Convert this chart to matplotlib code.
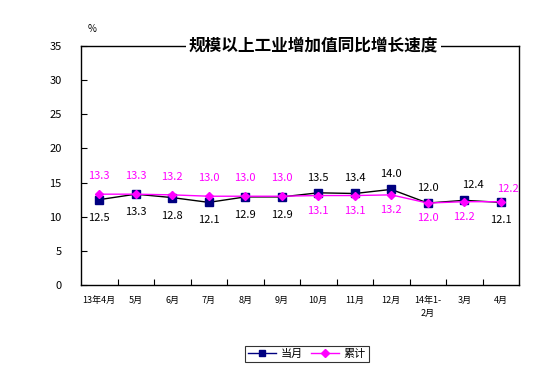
import matplotlib
matplotlib.use("Agg")
import matplotlib.pyplot as plt
from matplotlib.lines import Line2D

plt.rcParams['font.family'] = ['Noto Sans CJK SC', 'DejaVu Sans']

months = ["13年4月", "5月", "6月", "7月", "8月", "9月", "10月", "11月", "12月",
          "14年1-\n2月", "3月", "4月"]
monthly = [12.5, 13.3, 12.8, 12.1, 12.9, 12.9, 13.5, 13.4, 14.0, 12.0, 12.4, 12.1]
cumulative = [13.3, 13.3, 13.2, 13.0, 13.0, 13.0, 13.1, 13.1, 13.2, 12.0, 12.2, 12.2]
# label placement: +1 above the point, -1 below
monthly_pos = [-1, -1, -1, -1, -1, -1, 1, 1, 1, 1, 1, -1]
cumulative_pos = [1, 1, 1, 1, 1, 1, -1, -1, -1, -1, -1, 1]

fig = plt.figure(figsize=(5.53, 3.74), dpi=100)
ax = fig.add_axes([81 / 553, 1 - 285 / 374, 438 / 553, 239 / 374])

x = list(range(len(months)))
ax.plot(x, monthly, color='black', lw=1, marker='s', ms=5.5,
        mfc='#000080', mec='#000080', zorder=3)
ax.plot(x, cumulative, color='#FF00FF', lw=1, marker='D', ms=4,
        mfc='#FF00FF', mec='#FF00FF', zorder=3)

for i, v in enumerate(monthly):
    off = 11 if monthly_pos[i] > 0 else -13
    dx = 6 if i == 10 else 0
    ax.annotate(f"{v:.1f}", (i, v), xytext=(dx, off), textcoords='offset points',
                ha='center', va='center', fontsize=8, color='black')
for i, v in enumerate(cumulative):
    off = 13 if cumulative_pos[i] > 0 else -11
    dx = 5 if i == 11 else 0
    if i == 11:
        off = 9
    ax.annotate(f"{v:.1f}", (i, v), xytext=(dx, off), textcoords='offset points',
                ha='center', va='center', fontsize=8, color='#FF00FF')

ax.set_xlim(-0.5, len(months) - 0.5)
ax.set_ylim(0, 35)
ax.set_yticks(range(0, 36, 5))
ax.set_xticks([i + 0.5 for i in range(len(months) - 1)])
ax.set_xticklabels([])
ax.set_xticks(x, minor=True)
ax.set_xticklabels(months, minor=True, fontsize=6.5, va='top', linespacing=1.6)
ax.tick_params(axis='x', which='minor', length=0, pad=8)
ax.tick_params(axis='x', which='major', length=4, direction='in')
ax.tick_params(axis='y', length=4, direction='in', labelsize=8, pad=14)
for s in ax.spines.values():
    s.set_linewidth(1)

ax.text(-0.5 + 0.3, 36.8, "%", fontsize=7, ha='center', va='bottom')
ax.text(0.53, 1.0, "规模以上工业增加值同比增长速度", transform=ax.transAxes,
        ha='center', va='center', fontsize=12, fontweight='bold',
        bbox=dict(facecolor='white', edgecolor='none', pad=2), zorder=5)

handles = [Line2D([], [], color='#000080', lw=1, marker='s', ms=5),
           Line2D([], [], color='#FF00FF', lw=1, marker='D', ms=4)]
leg = fig.legend(handles, ["当月", "累计"], loc='center', ncol=2,
                 bbox_to_anchor=(307 / 553, 1 - 354 / 374), fontsize=8,
                 frameon=True, fancybox=False, edgecolor='black',
                 handlelength=2.5, columnspacing=0.8, handletextpad=0.4,
                 borderpad=0.3)
leg.get_frame().set_linewidth(0.8)

fig.savefig("out.png", dpi=100)
